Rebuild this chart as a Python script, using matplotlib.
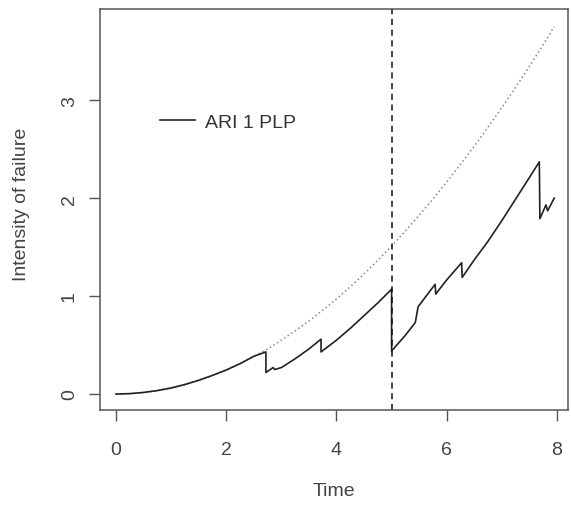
import matplotlib
matplotlib.use("Agg")
import matplotlib.pyplot as plt

# PLP intensity (dotted)
plp_t = [0, 0.25, 0.5, 0.75, 1.0, 1.25, 1.5, 1.75, 2.0, 2.25, 2.5, 2.75, 3.0,
         3.25, 3.5, 3.75, 4.0, 4.25, 4.5, 4.75, 5.0, 5.25, 5.5, 5.75, 6.0,
         6.25, 6.5, 6.75, 7.0, 7.25, 7.5, 7.75, 7.95]
plp_v = [0, 0.004, 0.016, 0.035, 0.062, 0.097, 0.14, 0.19, 0.245, 0.31, 0.385,
         0.46, 0.55, 0.645, 0.745, 0.855, 0.97, 1.095, 1.225, 1.365, 1.51,
         1.665, 1.825, 1.99, 2.165, 2.345, 2.53, 2.725, 2.925, 3.13, 3.345,
         3.565, 3.75]

# ARI 1 PLP intensity (solid)
ari_t = [0, 0.25, 0.5, 0.75, 1.0, 1.25, 1.5, 1.75, 2.0, 2.25, 2.5, 2.72,
         2.72, 2.85, 2.88, 3.0, 3.25, 3.5, 3.72,
         3.72, 4.0, 4.25, 4.5, 4.75, 5.0,
         5.0, 5.25, 5.43, 5.48, 5.6, 5.79,
         5.80, 6.0, 6.27,
         6.28, 6.5, 6.75, 7.0, 7.25, 7.5, 7.68,
         7.69, 7.8, 7.83, 7.95]
ari_v = [0, 0.004, 0.016, 0.035, 0.062, 0.097, 0.14, 0.19, 0.245, 0.31, 0.385, 0.43,
         0.22, 0.27, 0.25, 0.27, 0.36, 0.46, 0.56,
         0.43, 0.55, 0.67, 0.80, 0.93, 1.07,
         0.44, 0.60, 0.73, 0.89, 0.98, 1.12,
         1.02, 1.165, 1.34,
         1.19, 1.37, 1.56, 1.77, 1.99, 2.21, 2.37,
         1.79, 1.93, 1.87, 2.0]

change_time = 5.0
x_ticks = [0, 2, 4, 6, 8]
y_ticks = [0, 1, 2, 3]

FS = 14
plt.rcParams['font.family'] = ['Liberation Sans', 'DejaVu Sans']
fig = plt.figure(figsize=(5.71, 5.06), dpi=100)
ax = fig.add_axes([100/571, 1-411/506, 468/571, 401/506])

ax.plot(plp_t, plp_v, color='#888888', lw=1.1, linestyle=(0, (1, 1.8)))
ax.plot(ari_t, ari_v, color='#222222', lw=1.2, label='ARI 1 PLP')
ax.axvline(change_time, color='#111111', lw=1.1, linestyle=(0, (4, 3)))

ax.set_xlim(-0.29, 8.2)
ax.set_ylim(-0.163, 3.93)
ax.set_xticks(x_ticks)
ax.set_yticks(y_ticks)
ax.set_yticklabels([str(v) for v in y_ticks], rotation=90, va='center')
ax.tick_params(direction='out', length=8, width=1, colors='#555555',
               labelcolor='#444444', labelsize=FS)
ax.tick_params(axis='x', pad=14)
ax.tick_params(axis='y', pad=8)
for s in ax.spines.values():
    s.set_color('#555555')
    s.set_linewidth(1.1)

ax.set_xlabel('Time', fontsize=FS, color='#444444')
ax.set_ylabel('Intensity of failure', fontsize=FS, color='#444444')
ax.xaxis.set_label_coords((334 - 100) / 468, -(492 - 411) / 401)
ax.yaxis.set_label_coords(-(100 - 22) / 468, (411 - 204) / 401)
ax.xaxis.label.set_va('center')
ax.yaxis.label.set_va('center')

ax.legend(loc='center left', bbox_to_anchor=((160 - 100) / 468, (411 - 123) / 401),
          frameon=False, fontsize=FS, handlelength=1.8, handletextpad=0.5,
          labelcolor='#333333', borderaxespad=0, borderpad=0)

fig.savefig('out.png', dpi=100)
